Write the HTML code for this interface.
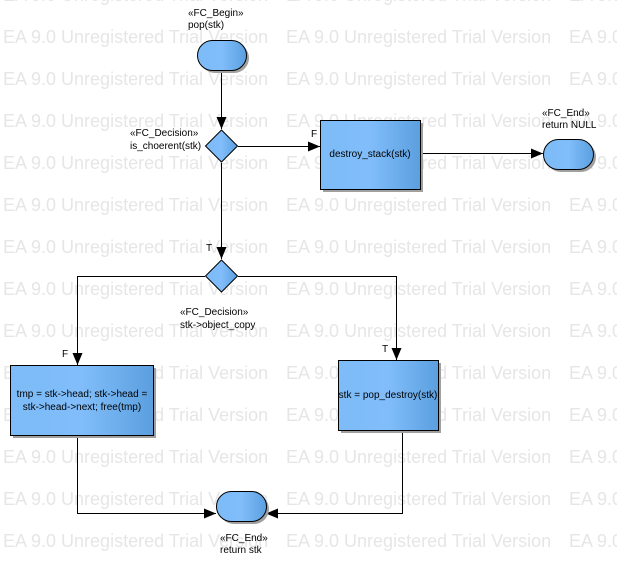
<!DOCTYPE html>
<html><head><meta charset="utf-8"><style>
html,body{margin:0;padding:0;background:#fff;width:617px;height:562px;overflow:hidden}
svg{display:block;font-family:"Liberation Sans",Arial,sans-serif}
.wm{fill:#e6e6e6;font-size:18px}
.t{font-size:10px;fill:#000}
</style></head><body>
<svg width="617" height="562" viewBox="0 0 617 562" xmlns="http://www.w3.org/2000/svg">
<defs>
<linearGradient id="g" x1="0" x2="1" y1="0" y2="0">
<stop offset="0" stop-color="#7dbcf8"/><stop offset="0.5" stop-color="#80bdfa"/><stop offset="1" stop-color="#5b9fdf"/>
</linearGradient>
<marker id="a" markerWidth="12" markerHeight="10" refX="12" refY="5" orient="auto" markerUnits="userSpaceOnUse">
<path d="M0,0 L12,5 L0,10 Z" fill="#000"/></marker>
</defs>
<g class="wm">
<text x="3" y="1">EA 9.0 Unregistered Trial Version</text><text x="286" y="1">EA 9.0 Unregistered Trial Version</text><text x="569" y="1">EA 9.0 Unregistered Trial Version</text>
<text x="3" y="43">EA 9.0 Unregistered Trial Version</text><text x="286" y="43">EA 9.0 Unregistered Trial Version</text><text x="569" y="43">EA 9.0 Unregistered Trial Version</text>
<text x="3" y="85">EA 9.0 Unregistered Trial Version</text><text x="286" y="85">EA 9.0 Unregistered Trial Version</text><text x="569" y="85">EA 9.0 Unregistered Trial Version</text>
<text x="3" y="127">EA 9.0 Unregistered Trial Version</text><text x="286" y="127">EA 9.0 Unregistered Trial Version</text><text x="569" y="127">EA 9.0 Unregistered Trial Version</text>
<text x="3" y="169">EA 9.0 Unregistered Trial Version</text><text x="286" y="169">EA 9.0 Unregistered Trial Version</text><text x="569" y="169">EA 9.0 Unregistered Trial Version</text>
<text x="3" y="211">EA 9.0 Unregistered Trial Version</text><text x="286" y="211">EA 9.0 Unregistered Trial Version</text><text x="569" y="211">EA 9.0 Unregistered Trial Version</text>
<text x="3" y="253">EA 9.0 Unregistered Trial Version</text><text x="286" y="253">EA 9.0 Unregistered Trial Version</text><text x="569" y="253">EA 9.0 Unregistered Trial Version</text>
<text x="3" y="295">EA 9.0 Unregistered Trial Version</text><text x="286" y="295">EA 9.0 Unregistered Trial Version</text><text x="569" y="295">EA 9.0 Unregistered Trial Version</text>
<text x="3" y="337">EA 9.0 Unregistered Trial Version</text><text x="286" y="337">EA 9.0 Unregistered Trial Version</text><text x="569" y="337">EA 9.0 Unregistered Trial Version</text>
<text x="3" y="379">EA 9.0 Unregistered Trial Version</text><text x="286" y="379">EA 9.0 Unregistered Trial Version</text><text x="569" y="379">EA 9.0 Unregistered Trial Version</text>
<text x="3" y="421">EA 9.0 Unregistered Trial Version</text><text x="286" y="421">EA 9.0 Unregistered Trial Version</text><text x="569" y="421">EA 9.0 Unregistered Trial Version</text>
<text x="3" y="463">EA 9.0 Unregistered Trial Version</text><text x="286" y="463">EA 9.0 Unregistered Trial Version</text><text x="569" y="463">EA 9.0 Unregistered Trial Version</text>
<text x="3" y="505">EA 9.0 Unregistered Trial Version</text><text x="286" y="505">EA 9.0 Unregistered Trial Version</text><text x="569" y="505">EA 9.0 Unregistered Trial Version</text>
<text x="3" y="547">EA 9.0 Unregistered Trial Version</text><text x="286" y="547">EA 9.0 Unregistered Trial Version</text><text x="569" y="547">EA 9.0 Unregistered Trial Version</text>
</g>
<g stroke="#000" stroke-width="1" fill="none">
<path d="M221.5,70 V129" marker-end="url(#a)"/>
<path d="M238,146.5 H320" marker-end="url(#a)"/>
<path d="M420,153.5 H543" marker-end="url(#a)"/>
<path d="M221.5,163 V259" marker-end="url(#a)"/>
<path d="M205,276.5 H77.5 V365" marker-end="url(#a)"/>
<path d="M238,276.5 H396.5 V360" marker-end="url(#a)"/>
<path d="M77.5,435 V513.5 H216" marker-end="url(#a)"/>
<path d="M402.5,430 V513.5 H266" marker-end="url(#a)"/>
</g>
<g fill="#a0a0a0">
<rect x="200" y="43" width="49" height="30" rx="15"/>
<rect x="546" y="142" width="50" height="30" rx="15"/>
<rect x="219" y="494" width="50" height="30" rx="15"/>
<rect x="323" y="123" width="100" height="69"/>
<rect x="13" y="368" width="143" height="70"/>
<rect x="341" y="363" width="100" height="70"/>
</g>
<g stroke="#000" stroke-width="1" fill="url(#g)">
<rect x="197.5" y="40.5" width="49" height="30" rx="15"/>
<rect x="543.5" y="139.5" width="50" height="30" rx="15"/>
<rect x="216.5" y="491.5" width="50" height="30" rx="15"/>
<rect x="320.5" y="120.5" width="100" height="69"/>
<rect x="10.5" y="365.5" width="143" height="70"/>
<rect x="338.5" y="360.5" width="100" height="70"/>
<path d="M221.5,130 L237.5,146 L221.5,162 L205.5,146 Z"/>
<path d="M221.5,260 L237.5,276 L221.5,292 L205.5,276 Z"/>
</g>
<g class="t">
<text x="188" y="16">«FC_Begin»</text><text x="188" y="28">pop(stk)</text>
<text x="130" y="136">«FC_Decision»</text><text x="130" y="149">is_choerent(stk)</text>
<text x="311" y="137">F</text>
<text x="370" y="157" text-anchor="middle">destroy_stack(stk)</text>
<text x="542" y="116">«FC_End»</text><text x="542" y="128">return NULL</text>
<text x="206" y="251">T</text>
<text x="180" y="315">«FC_Decision»</text><text x="180" y="328">stk-&gt;object_copy</text>
<text x="62" y="357">F</text>
<text x="382" y="352">T</text>
<text x="82" y="397" text-anchor="middle">tmp = stk-&gt;head; stk-&gt;head =</text>
<text x="82" y="410" text-anchor="middle">stk-&gt;head-&gt;next; free(tmp)</text>
<text x="388" y="398" text-anchor="middle">stk = pop_destroy(stk)</text>
<text x="220" y="541">«FC_End»</text><text x="220" y="553">return stk</text>
</g>
</svg>
</body></html>
